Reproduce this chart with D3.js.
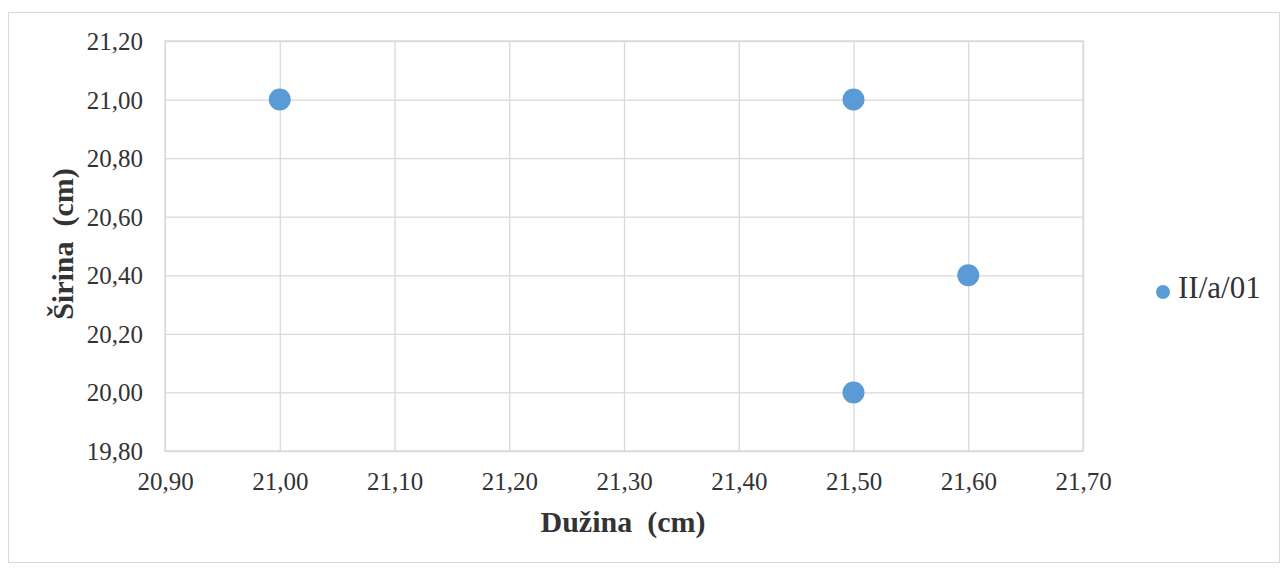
<!DOCTYPE html>
<html><head><meta charset="utf-8">
<script src="https://cdn.jsdelivr.net/npm/d3@7"></script>
<style>body{margin:0;background:#fff}svg{display:block}
svg text{font-family:"Liberation Serif","Times New Roman",Tinos,"DejaVu Serif",serif;}</style>
</head><body><svg id="c" width="1287" height="568"></svg>
<script>
const duzina = [21.00, 21.50, 21.60, 21.50];
const sirina = [21.00, 21.00, 20.40, 20.00];
const seriesName = "II/a/01";
const xTicks = [20.90, 21.00, 21.10, 21.20, 21.30, 21.40, 21.50, 21.60, 21.70];
const yTicks = [19.80, 20.00, 20.20, 20.40, 20.60, 20.80, 21.00, 21.20];
const xTitle = "Dužina  (cm)";
const yTitle = "Širina  (cm)";

const svg = d3.select("#c");
const color = "#5b9bd5";
svg.append("rect").attr("x",8.5).attr("y",12.5).attr("width",1271).attr("height",550)
  .attr("fill","#fff").attr("stroke","#d9d9d9");

const x = d3.scaleLinear().domain([20.90,21.70]).range([165,1083]);
const y = d3.scaleLinear().domain([19.80,21.20]).range([451,41]);
const fmt = d => d.toFixed(2).replace(".", ",");

const gx = svg.append("g").attr("transform","translate(0,451)")
  .call(d3.axisBottom(x).tickValues(xTicks).tickSize(-410).tickFormat(fmt).tickPadding(21));
const gy = svg.append("g").attr("transform","translate(165,0)")
  .call(d3.axisLeft(y).tickValues(yTicks).tickSize(-918).tickFormat(fmt).tickPadding(22));
[gx,gy].forEach(g=>{
  g.attr("font-family",null);
  g.select(".domain").remove();
  g.selectAll("line").attr("stroke","#d9d9d9").attr("stroke-width",1.3);
  g.selectAll("text").attr("font-size",25).attr("fill","#333");
});
gy.selectAll("text").attr("dy","0.34em");
svg.append("rect").attr("x",165).attr("y",41).attr("width",918).attr("height",410)
  .attr("fill","none").attr("stroke","#d9d9d9").attr("stroke-width",1.3);

svg.append("g").selectAll("circle").data(duzina).join("circle")
  .attr("cx",(d)=>x(d)).attr("cy",(d,i)=>y(sirina[i])).attr("r",11)
  .attr("fill",color);

svg.append("text").attr("x",623).attr("y",532).attr("text-anchor","middle")
  .attr("font-weight","bold").attr("font-size",30).attr("fill","#333")
  .style("white-space","pre").text(xTitle);
svg.append("text").attr("transform","translate(73,244) rotate(-90)").attr("text-anchor","middle")
  .attr("font-weight","bold").attr("font-size",30).attr("fill","#333")
  .style("white-space","pre").text(yTitle);

svg.append("circle").attr("cx",1163).attr("cy",292).attr("r",7).attr("fill",color);
svg.append("text").attr("x",1178).attr("y",298).attr("font-size",31)
  .attr("fill","#333").text(seriesName);
</script></body></html>
